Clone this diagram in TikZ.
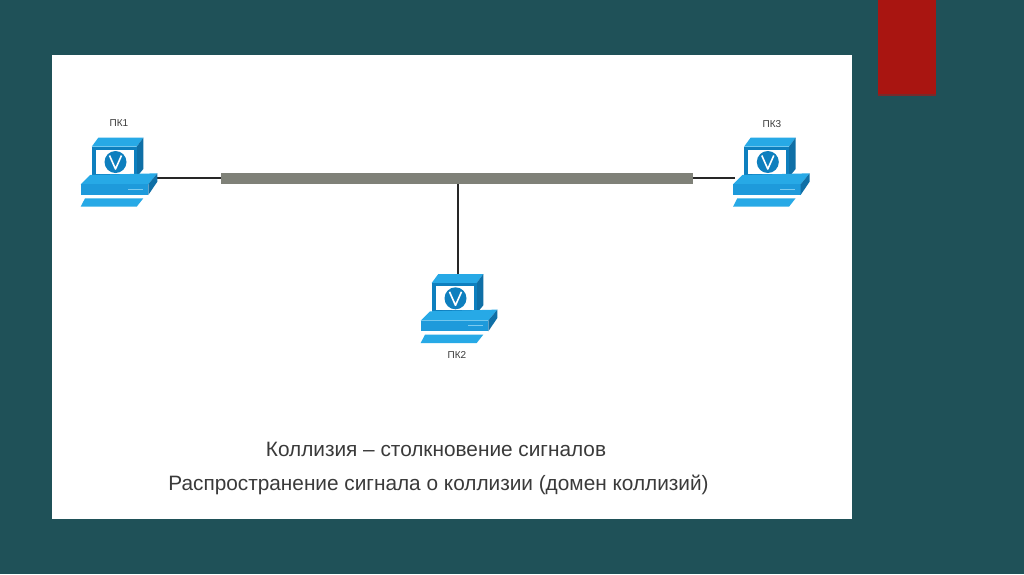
\documentclass[tikz,border=0pt]{standalone}
\usepackage{fontspec}
\setmainfont{Liberation Sans}
\definecolor{bgteal}{HTML}{1F5158}
\definecolor{redbar}{HTML}{A91511}
\definecolor{redshadow}{HTML}{7A2A2A}
\definecolor{pcmain}{HTML}{1E9ADB}
\definecolor{pclight}{HTML}{27A9E6}
\definecolor{pcdark}{HTML}{0F6FA6}
\definecolor{pcedge}{HTML}{0E7FBE}
\definecolor{cable}{HTML}{7F8178}
\definecolor{txt}{HTML}{3A3A3A}
\tikzset{
  pcicon/.pic={
    % monitor
    \fill[pclight] (11.7,9.7) -- (18.3,0.7) -- (63.3,0.7) -- (56.7,9.7) -- cycle;
    \fill[pcdark] (56.7,9.7) -- (63.3,0.7) -- (63.3,32) -- (56.7,40) -- cycle;
    \fill[pcedge] (11.7,9.7) rectangle (56.7,42);
    \fill[white] (16,13) rectangle (53.5,37);
    \fill[pcedge] (35.5,25) circle (11);
    \draw[white,line width=1.6pt,line join=round] (29.5,18.5) -- (35.5,32) -- (41.5,18.5);
    % base
    \fill[pclight] (0.7,47.3) -- (10,38) -- (77.3,36.3) -- (68.3,47.3) -- cycle;
    \fill[pcmain] (0.7,47.3) rectangle (68.3,58);
    \fill[pcdark] (68.3,47.3) -- (77.3,36.3) -- (77.3,44.7) -- (68.3,58) -- cycle;
    \fill[pclight] (11.7,38) rectangle (56.7,40);
    \draw[pclight!60!white,line width=0.5pt] (48,52) -- (63,52);
    % keyboard
    \fill[pclight] (0.7,69.7) -- (5,61.3) -- (63.3,61.3) -- (56.7,69.7) -- cycle;
  },
  pclabel/.style={font=\fontsize{10}{12}\selectfont,text=txt,inner sep=0pt},
  captiontext/.style={font=\fontsize{20.8}{24}\selectfont,text=txt,inner sep=0pt},
  wire/.style={draw=black!85,line width=1.5pt},
  sidewire/.style={draw=black!85,line width=2pt},
  busbar/.style={fill=cable,inner sep=0pt,minimum width=472pt,minimum height=11pt}
}
\begin{document}
\begin{tikzpicture}[x=1pt,y=-1pt]
\useasboundingbox (0,0) rectangle (1024,574);
\fill[bgteal] (0,0) rectangle (1024,574);
\fill[white] (52,55) rectangle (852,519);
\fill[redshadow] (878,0) rectangle (936,95.5);
\fill[redbar] (878,0) rectangle (936,94);

\node[busbar] (bus) at (457,178.5) {};
\coordinate (pc1port) at (157,178);
\coordinate (pc2port) at (458,274);
\coordinate (pc3port) at (735,178);
\coordinate (busdrop) at (458,184);
\coordinate (busleft) at (221,178);
\coordinate (busright) at (693,178);

\draw[sidewire] (pc1port) -- (busleft);
\draw[sidewire] (busright) -- (pc3port);
\draw[wire] (busdrop) -- (pc2port);

\pic at (80,137) {pcicon};
\pic at (420,273.3) {pcicon};
\pic at (732.3,137) {pcicon};

\node[pclabel] (l1) at (119,123.5) {ПК1};
\node[pclabel] (l2) at (457,354.5) {ПК2};
\node[pclabel] (l3) at (772,124.5) {ПК3};

\node[captiontext] (c1) at (436,449.5) {Коллизия – столкновение сигналов};
\node[captiontext] (c2) at (438.5,485) {Распространение сигнала о коллизии (домен коллизий)};
\end{tikzpicture}
\end{document}
